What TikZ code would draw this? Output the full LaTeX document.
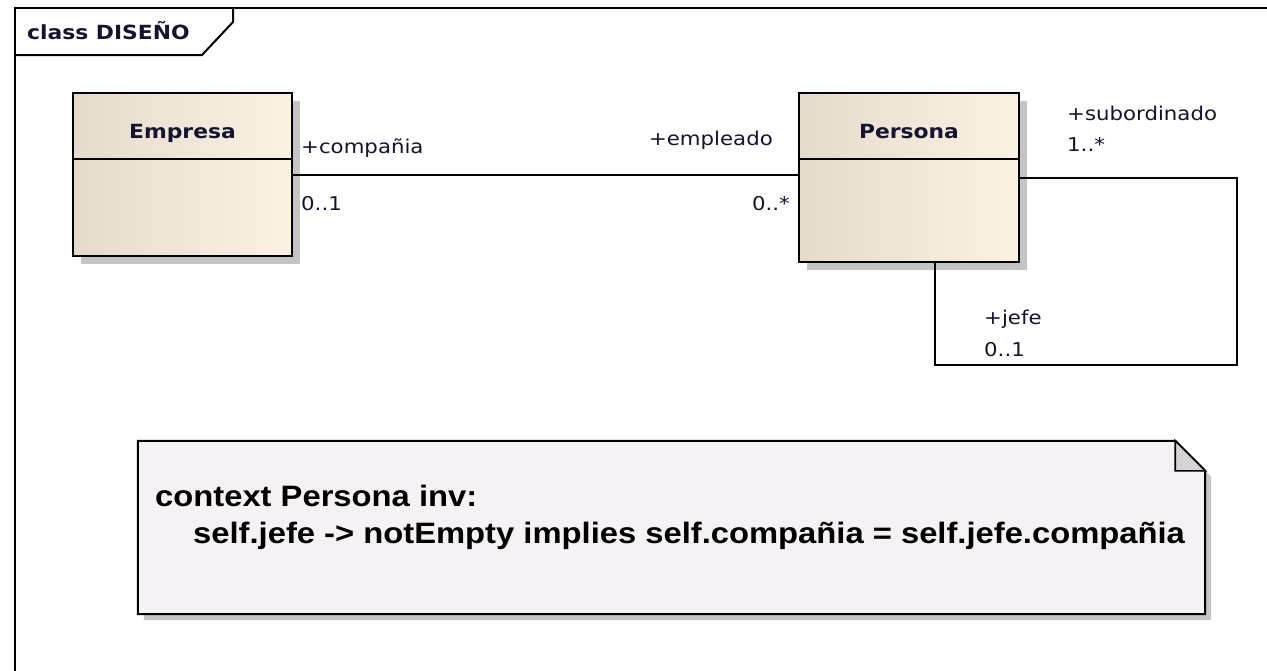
\documentclass[tikz,border=0pt]{standalone}
\usepackage{fontspec}
\newfontfamily\lblfont[FakeStretch=1.12]{DejaVu Sans}
\newfontfamily\oclfont[FakeStretch=1.11]{Liberation Sans}
\definecolor{clsL}{HTML}{E4DBCD}
\definecolor{clsR}{HTML}{FBF2E4}
\definecolor{notefill}{HTML}{F5F1F5}
\definecolor{foldfill}{HTML}{D6D2D8}
\definecolor{shadowc}{HTML}{C4C4C4}
\definecolor{txtc}{HTML}{14142E}
\tikzset{
  x=1pt,y=-1pt,
  frameline/.style={draw=black,line width=2pt},
  classbox/.style={draw=black,line width=2pt,left color=clsL,right color=clsR,shading angle=90,inner sep=0pt},
  classshadow/.style={fill=shadowc,draw=none},
  divider/.style={draw=black,line width=1.6pt},
  assoc/.style={draw=black,line width=1.6pt},
  lbl/.style={font=\lblfont\fontsize{19}{22}\selectfont,text=txtc,inner sep=0pt},
  ttl/.style={font=\lblfont\bfseries\fontsize{19.5}{22}\selectfont,text=txtc,inner sep=0pt},
  ocl/.style={font=\oclfont\bfseries\fontsize{29.5}{34}\selectfont,text=black,inner sep=0pt,anchor=base west},
}
\begin{document}
\begin{tikzpicture}
\useasboundingbox (0,0) rectangle (1267,670);
\fill[white] (0,0) rectangle (1267,670);
% frame
\draw[frameline] (15,672) -- (15,8) -- (1269,8);
\node[ttl,anchor=base west] (frametitle) at (27,39) {class DISEÑO};
\draw[frameline] (15,55) -- (202,55) -- (233,22) -- (233,8);

% classes
\fill[classshadow] (81,101) rectangle (300,264);
\node[classbox,minimum width=219,minimum height=163] (emp) at (182.5,174.5) {};
\draw[divider] (73,159) -- (292,159);
\node[ttl,anchor=base] (empt) at (182.5,138) {Empresa};

\fill[classshadow] (807,101) rectangle (1027,270);
\node[classbox,minimum width=220,minimum height=169] (per) at (909,177.5) {};
\draw[divider] (799,159) -- (1019,159);
\node[ttl,anchor=base] (pert) at (909,138) {Persona};

% association Empresa - Persona
\draw[assoc] ([yshift=-0.5]emp.east) -- ([yshift=-0.5]emp.east -| per.west);
\node[lbl,anchor=base west] (l1) at (301,153) {+compañia};
\node[lbl,anchor=base west] (l2) at (301,210) {0..1};
\node[lbl,anchor=base east] (l3) at (773,145) {+empleado};
\node[lbl,anchor=base east] (l4) at (790,210) {0..*};

% self association
\coordinate (lp) at (1237,365);
\draw[assoc] ([yshift=-0.5]per.east) -| (lp) -| ([xshift=26]per.south);
\node[lbl,anchor=base west] (l5) at (1067,120) {+subordinado};
\node[lbl,anchor=base west] (l6) at (1067,151) {1..*};
\node[lbl,anchor=base west] (l7) at (984,324) {+jefe};
\node[lbl,anchor=base west] (l8) at (984,356) {0..1};

% note
\node[minimum width=1067,minimum height=173,inner sep=0pt] (note) at (671.5,527.5) {};
\fill[shadowc] ([xshift=6,yshift=-6]note.north west) -- ([xshift=-24,yshift=-6]note.north east)
  -- ([xshift=6,yshift=-36]note.north east) -- ([xshift=6,yshift=-6]note.south east)
  -- ([xshift=6,yshift=-6]note.south west) -- cycle;
\draw[line width=2pt,fill=notefill] (note.north west) -- ([xshift=-30]note.north east)
  -- ([yshift=-30]note.north east) -- (note.south east) -- (note.south west) -- cycle;
\draw[line width=1.6pt,fill=foldfill] ([xshift=-30]note.north east) -- ([xshift=-30,yshift=-30]note.north east)
  -- ([yshift=-30]note.north east) -- cycle;
\node[ocl] (ocl1) at (155,506) {context Persona inv:};
\node[ocl] (ocl2) at (193,543) {self.jefe -> notEmpty implies self.compañia = self.jefe.compañia};
\end{tikzpicture}
\end{document}
